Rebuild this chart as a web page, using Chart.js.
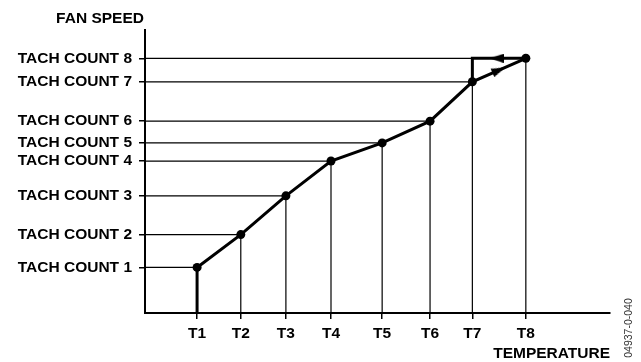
<!DOCTYPE html>
<html>
<head>
<meta charset="utf-8">
<script src="https://cdn.jsdelivr.net/npm/chart.js@4.4.1/dist/chart.umd.min.js"></script>
<style>
	body { margin: 0; background: #fff; }
	canvas { display: block; }
</style>
</head>
<body>
<canvas id="grafico" width="641" height="362"></canvas>
<script>
// valori (scala 0..100 su entrambi gli assi)
const tempLabels = ['T1', 'T2', 'T3', 'T4', 'T5', 'T6', 'T7', 'T8'];
const tempVals = [11.2, 20.6, 30.3, 40.0, 51.0, 61.3, 70.4, 81.9];
const tachLabels = ['TACH COUNT 1', 'TACH COUNT 2', 'TACH COUNT 3', 'TACH COUNT 4',
	'TACH COUNT 5', 'TACH COUNT 6', 'TACH COUNT 7', 'TACH COUNT 8'];
const tachVals = [16.1, 27.7, 41.4, 53.7, 60.1, 67.8, 81.7, 90.0];

// isteresi: da T8 torna a T7 e scende a TACH COUNT 7
const hystX = [81.9, 70.4, 70.4];
const hystY = [90.0, 90.0, 81.7];

// punte di freccia sul percorso
const arrowX = [76.1, 75.6];
const arrowY = [85.8, 90.0];
const arrowRot = [66.5, -90];

const FONT = "'Liberation Sans', Arial, sans-serif";
const NERO = '#000';

function creaFreccia(){
	const c = document.createElement('canvas');
	c.width = 9;
	c.height = 14;
	const g = c.getContext('2d');
	g.fillStyle = NERO;
	g.beginPath();
	g.moveTo(4.5, 0);
	g.lineTo(9, 14);
	g.lineTo(0, 14);
	g.closePath();
	g.fill();
	return c;
}

const linea = (data, width) => ({
	data: data,
	showLine: true,
	borderColor: NERO,
	borderWidth: width,
	pointRadius: 0,
	order: 5
});

const datasets = [];

// curva principale
datasets.push({
	data: tempVals.map((x, i) => ({ x: x, y: tachVals[i] })),
	showLine: true,
	borderColor: NERO,
	backgroundColor: NERO,
	borderWidth: 3,
	pointRadius: 4.5,
	pointBackgroundColor: NERO,
	pointBorderWidth: 0,
	order: 1
});

// percorso di ritorno
datasets.push({
	data: hystX.map((x, i) => ({ x: x, y: hystY[i] })),
	showLine: true,
	borderColor: NERO,
	borderWidth: 3,
	pointRadius: 0,
	order: 2
});

// frecce
const freccia = creaFreccia();
datasets.push({
	data: arrowX.map((x, i) => ({ x: x, y: arrowY[i] })),
	showLine: false,
	pointStyle: freccia,
	rotation: arrowRot,
	pointRadius: 6,
	order: 0
});

// linee orizzontali e verticali di riferimento
tachVals.forEach((v, i) => {
	datasets.push(linea([{ x: 0, y: v }, { x: tempVals[i], y: v }], 1.2));
});
tempVals.forEach((v, i) => {
	datasets.push(linea([{ x: v, y: 0 }, { x: v, y: tachVals[i] }], i === 0 ? 3 : 1.2));
});

const testiExtra = {
	id: 'testiExtra',
	afterDraw(chart){
		const ctx = chart.ctx;
		ctx.save();
		ctx.fillStyle = NERO;
		ctx.font = 'bold 15.5px ' + FONT;
		ctx.textAlign = 'center';
		ctx.textBaseline = 'alphabetic';
		ctx.fillText('FAN SPEED', 100, 23);

		ctx.translate(632, 328);
		ctx.rotate(-Math.PI / 2);
		ctx.font = '10.5px ' + FONT;
		ctx.fillStyle = '#333';
		ctx.fillText('04937-0-040', 0, 0);
		ctx.restore();
	}
};

new Chart(document.getElementById('grafico'), {
	type: 'scatter',
	data: { datasets: datasets },
	options: {
		responsive: false,
		animation: false,
		layout: { padding: { top: 30, right: 31, left: 0, bottom: 0 } },
		plugins: {
			legend: { display: false },
			tooltip: { enabled: false }
		},
		scales: {
			x: {
				type: 'linear',
				min: 0,
				max: 100,
				afterBuildTicks: (scale) => { scale.ticks = tempVals.map(v => ({ value: v })); },
				afterFit: (scale) => { scale.height = 49; },
				border: { display: true, color: NERO, width: 2 },
				grid: { display: true, drawOnChartArea: false, drawTicks: true, tickLength: 6, color: NERO, lineWidth: 1.5 },
				ticks: {
					autoSkip: false,
					maxRotation: 0,
					minRotation: 0,
					padding: 5,
					color: NERO,
					font: { family: FONT, size: 15.5, weight: 'bold' },
					callback: (value) => tempLabels[tempVals.indexOf(value)]
				},
				title: {
					display: true,
					text: 'TEMPERATURE',
					align: 'end',
					color: NERO,
					font: { family: FONT, size: 15.5, weight: 'bold' },
					padding: { top: 2, bottom: -1 }
				}
			},
			y: {
				type: 'linear',
				min: 0,
				max: 100,
				afterBuildTicks: (scale) => { scale.ticks = tachVals.map(v => ({ value: v })); },
				afterFit: (scale) => { scale.width = 145; },
				border: { display: true, color: NERO, width: 2 },
				grid: { display: true, drawOnChartArea: false, drawTicks: true, tickLength: 6, color: NERO, lineWidth: 1.5 },
				ticks: {
					autoSkip: false,
					padding: 7,
					color: NERO,
					font: { family: FONT, size: 15.5, weight: 'bold' },
					callback: (value) => tachLabels[tachVals.indexOf(value)]
				}
			}
		}
	},
	plugins: [testiExtra]
});
</script>
</body>
</html>
